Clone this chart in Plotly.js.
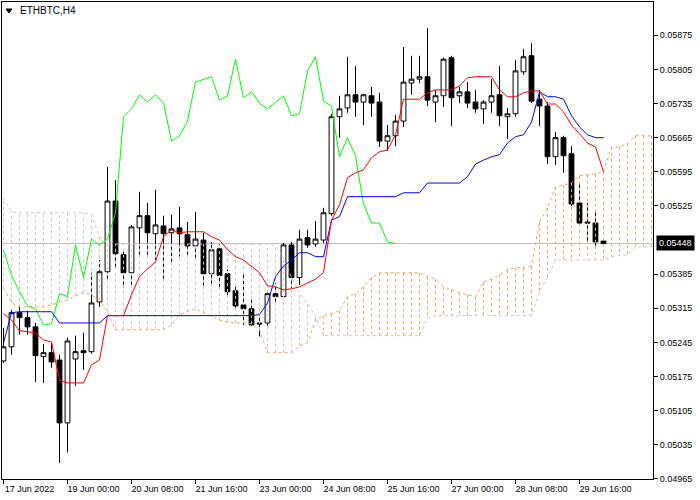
<!DOCTYPE html>
<html><head><meta charset="utf-8">
<script src="https://cdn.plot.ly/plotly-3.0.1.min.js"></script>
<style>html,body{margin:0;padding:0;background:#fff;}#chart{width:700px;height:500px;}</style>
</head><body><div id="chart"></div>
<script>
const symbolLabel = "ETHBTC,H4";
const tickBars = [0,8,16,24,32,40,48,56,64,72];
const tickLabels = ["17 Jun 2022","19 Jun 00:00","20 Jun 08:00","21 Jun 16:00","23 Jun 00:00","24 Jun 08:00","25 Jun 16:00","27 Jun 00:00","28 Jun 08:00","29 Jun 16:00"];
const priceTicks = [0.04965,0.05035,0.05105,0.05175,0.05245,0.05315,0.05385,0.05525,0.05595,0.05665,0.05735,0.05805,0.05875];

const open = [0.05207,0.05236,0.05306,0.05296,0.05277,0.05216,0.05224,0.05209,0.05080,0.05211,
 0.05228,0.05226,0.05328,0.05390,0.05535,0.05425,0.05388,0.05480,0.05505,0.05468,
 0.05484,0.05470,0.05480,0.05466,0.05443,0.05455,0.05386,0.05437,0.05386,0.05351,
 0.05322,0.05314,0.05285,0.05285,0.05345,0.05339,0.05445,0.05378,0.05460,0.05447,
 0.05455,0.05509,0.05708,0.05726,0.05753,0.05738,0.05751,0.05738,0.05658,0.05669,
 0.05699,0.05777,0.05785,0.05790,0.05738,0.05751,0.05829,0.05751,0.05759,0.05738,
 0.05724,0.05738,0.05753,0.05708,0.05714,0.05800,0.05833,0.05744,0.05730,0.05626,
 0.05665,0.05632,0.05531,0.05492,0.05490,0.05453];
const high = [0.05275,0.05312,0.05320,0.05310,0.05285,0.05242,0.05244,0.05220,0.05255,0.05259,
 0.05265,0.05388,0.05414,0.05605,0.05578,0.05433,0.05486,0.05554,0.05531,0.05558,
 0.05505,0.05507,0.05523,0.05492,0.05513,0.05470,0.05451,0.05447,0.05394,0.05359,
 0.05388,0.05332,0.05296,0.05349,0.05367,0.05449,0.05451,0.05476,0.05476,0.05494,
 0.05521,0.05714,0.05751,0.05831,0.05812,0.05755,0.05769,0.05757,0.05691,0.05712,
 0.05851,0.05833,0.05833,0.05890,0.05763,0.05829,0.05833,0.05769,0.05779,0.05763,
 0.05742,0.05785,0.05812,0.05726,0.05824,0.05847,0.05859,0.05763,0.05738,0.05677,
 0.05669,0.05648,0.05572,0.05531,0.05513,0.05455];
const low = [0.05203,0.05220,0.05261,0.05261,0.05164,0.05162,0.05193,0.04998,0.05019,0.05156,
 0.05189,0.05222,0.05318,0.05373,0.05398,0.05357,0.05359,0.05421,0.05419,0.05414,
 0.05375,0.05404,0.05421,0.05421,0.05414,0.05361,0.05363,0.05357,0.05337,0.05316,
 0.05281,0.05279,0.05257,0.05275,0.05328,0.05337,0.05357,0.05363,0.05439,0.05441,
 0.05449,0.05505,0.05665,0.05716,0.05708,0.05691,0.05708,0.05646,0.05638,0.05648,
 0.05687,0.05753,0.05777,0.05730,0.05697,0.05728,0.05689,0.05736,0.05726,0.05716,
 0.05693,0.05716,0.05689,0.05662,0.05708,0.05794,0.05736,0.05689,0.05611,0.05609,
 0.05593,0.05525,0.05486,0.05451,0.05443,0.05445];
const close = [0.05236,0.05306,0.05296,0.05277,0.05218,0.05224,0.05205,0.05080,0.05248,0.05226,
 0.05224,0.05326,0.05390,0.05535,0.05427,0.05388,0.05482,0.05505,0.05470,0.05486,
 0.05468,0.05478,0.05468,0.05443,0.05457,0.05386,0.05435,0.05382,0.05349,0.05320,
 0.05314,0.05281,0.05283,0.05345,0.05339,0.05445,0.05378,0.05457,0.05445,0.05457,
 0.05511,0.05708,0.05724,0.05753,0.05738,0.05753,0.05736,0.05658,0.05669,0.05699,
 0.05779,0.05785,0.05790,0.05742,0.05751,0.05826,0.05747,0.05759,0.05736,0.05724,
 0.05738,0.05751,0.05710,0.05714,0.05802,0.05831,0.05740,0.05730,0.05626,0.05665,
 0.05628,0.05529,0.05490,0.05490,0.05451,0.05448];

const tenkan = [0.05304,0.05291,0.05269,0.05267,0.05265,0.05250,0.05246,0.05168,0.05162,0.05162,
 0.05162,0.05199,0.05209,0.05300,0.05300,0.05300,0.05343,0.05380,0.05396,0.05410,
 0.05462,0.05476,0.05470,0.05472,0.05472,0.05472,0.05462,0.05455,0.05435,0.05421,
 0.05414,0.05400,0.05388,0.05361,0.05359,0.05353,0.05355,0.05359,0.05367,0.05375,
 0.05388,0.05496,0.05527,0.05583,0.05593,0.05599,0.05624,0.05636,0.05640,0.05671,
 0.05744,0.05744,0.05744,0.05757,0.05763,0.05763,0.05763,0.05771,0.05788,0.05790,
 0.05790,0.05790,0.05763,0.05749,0.05749,0.05757,0.05761,0.05761,0.05734,0.05734,
 0.05718,0.05691,0.05673,0.05654,0.05646,0.05595];
const kijun = [0.05244,0.05306,0.05308,0.05308,0.05308,0.05308,0.05308,0.05285,0.05285,0.05285,
 0.05285,0.05285,0.05285,0.05300,0.05300,0.05300,0.05300,0.05300,0.05300,0.05300,
 0.05300,0.05300,0.05300,0.05300,0.05300,0.05300,0.05300,0.05300,0.05300,0.05300,
 0.05300,0.05300,0.05302,0.05326,0.05380,0.05402,0.05414,0.05429,0.05429,0.05421,
 0.05421,0.05496,0.05503,0.05544,0.05544,0.05544,0.05544,0.05544,0.05544,0.05544,
 0.05552,0.05552,0.05552,0.05572,0.05572,0.05572,0.05572,0.05572,0.05585,0.05611,
 0.05619,0.05626,0.05630,0.05654,0.05667,0.05671,0.05697,0.05759,0.05749,0.05749,
 0.05744,0.05710,0.05687,0.05671,0.05665,0.05665];
const chikou = [0.05435,0.05382,0.05349,0.05320,0.05314,0.05281,0.05283,0.05345,0.05339,0.05445,
 0.05378,0.05457,0.05445,0.05457,0.05511,0.05708,0.05724,0.05753,0.05738,0.05753,
 0.05736,0.05658,0.05669,0.05699,0.05779,0.05785,0.05790,0.05742,0.05751,0.05826,
 0.05747,0.05759,0.05736,0.05724,0.05738,0.05751,0.05710,0.05714,0.05802,0.05831,
 0.05740,0.05730,0.05626,0.05665,0.05628,0.05529,0.05490,0.05490,0.05451,0.05448];
const senkouA = [0.05357,0.05326,0.05318,0.05318,0.05318,0.05318,0.05322,0.05328,0.05332,0.05341,
 0.05347,0.05343,0.05332,0.05308,0.05271,0.05271,0.05271,0.05271,0.05271,0.05271,
 0.05271,0.05281,0.05302,0.05308,0.05314,0.05306,0.05298,0.05291,0.05287,0.05285,
 0.05285,0.05283,0.05271,0.05224,0.05224,0.05224,0.05224,0.05238,0.05244,0.05291,
 0.05300,0.05304,0.05310,0.05339,0.05345,0.05359,0.05378,0.05388,0.05388,0.05388,
 0.05388,0.05388,0.05388,0.05380,0.05375,0.05359,0.05353,0.05347,0.05343,0.05339,
 0.05369,0.05375,0.05384,0.05394,0.05398,0.05398,0.05402,0.05492,0.05521,0.05564,
 0.05568,0.05572,0.05587,0.05589,0.05591,0.05595,0.05646,0.05646,0.05654,0.05669,
 0.05669,0.05669];
const senkouB = [0.05542,0.05513,0.05511,0.05511,0.05511,0.05511,0.05511,0.05511,0.05511,0.05511,
 0.05511,0.05507,0.05462,0.05449,0.05447,0.05447,0.05447,0.05447,0.05447,0.05447,
 0.05447,0.05447,0.05447,0.05447,0.05447,0.05447,0.05447,0.05447,0.05447,0.05447,
 0.05447,0.05447,0.05447,0.05447,0.05443,0.05419,0.05378,0.05347,0.05326,0.05298,
 0.05259,0.05259,0.05259,0.05259,0.05259,0.05259,0.05259,0.05259,0.05259,0.05259,
 0.05259,0.05259,0.05259,0.05296,0.05300,0.05300,0.05300,0.05300,0.05300,0.05300,
 0.05300,0.05300,0.05300,0.05300,0.05300,0.05300,0.05300,0.05349,0.05378,0.05414,
 0.05414,0.05414,0.05414,0.05414,0.05414,0.05414,0.05421,0.05423,0.05425,0.05441,
 0.05441,0.05441];

const FONT = 'Liberation Sans, Arial, sans-serif';
const bars = close.map((_, i) => i);
const cloudBars = senkouA.map((_, i) => i);
const chikouBars = chikou.map((_, i) => i);
const lastClose = close[close.length - 1];

const hatch = {up: {x: [], y: []}, dn: {x: [], y: []}};
for (let i = 0; i < senkouA.length; i++) {
  const k = senkouA[i] >= senkouB[i] ? 'up' : 'dn';
  hatch[k].x.push(i, i, null);
  hatch[k].y.push(senkouA[i], senkouB[i], null);
}

const traces = [
  {type: 'candlestick', x: bars, open: open, high: high, low: low, close: close,
   increasing: {line: {color: '#000', width: 1}, fillcolor: '#fff'},
   decreasing: {line: {color: '#000', width: 1}, fillcolor: '#000'},
   whiskerwidth: 0, hoverinfo: 'skip'},
  {type: 'scatter', mode: 'lines', x: hatch.dn.x, y: hatch.dn.y, connectgaps: false,
   line: {color: '#D8BFD8', width: 1, dash: '3px,3px'}, hoverinfo: 'skip'},
  {type: 'scatter', mode: 'lines', x: hatch.up.x, y: hatch.up.y, connectgaps: false,
   line: {color: '#F4A460', width: 1, dash: '3px,3px'}, hoverinfo: 'skip'},
  {type: 'scatter', mode: 'lines', x: cloudBars, y: senkouB,
   line: {color: '#D8BFD8', width: 1, dash: '3px,3px'}, hoverinfo: 'skip'},
  {type: 'scatter', mode: 'lines', x: cloudBars, y: senkouA,
   line: {color: '#F4A460', width: 1, dash: '3px,3px'}, hoverinfo: 'skip'},
  {type: 'scatter', mode: 'lines', x: chikouBars, y: chikou,
   line: {color: '#00FF00', width: 1}, hoverinfo: 'skip'},
  {type: 'scatter', mode: 'lines', x: bars, y: kijun,
   line: {color: '#0000FF', width: 1}, hoverinfo: 'skip'},
  {type: 'scatter', mode: 'lines', x: bars, y: tenkan,
   line: {color: '#FF0000', width: 1}, hoverinfo: 'skip'}
];

const layout = {
  width: 700, height: 500,
  margin: {l: 2, r: 47, t: 2, b: 21, pad: 0},
  paper_bgcolor: '#fff', plot_bgcolor: '#fff',
  showlegend: false,
  boxgap: 0.4, boxgroupgap: 0,
  font: {family: FONT, size: 9, color: '#000'},
  xaxis: {
    range: [-0.1875, 81.1875], tickmode: 'array', tickvals: tickBars, ticktext: tickLabels,
    ticks: 'outside', ticklen: 4, tickcolor: '#000', tickwidth: 1,
    showline: true, linecolor: '#000', linewidth: 1, mirror: true,
    showgrid: false, zeroline: false, rangeslider: {visible: false},
    tickfont: {family: FONT, size: 9, color: '#000'},
    ticklabelshift: 26, ticklabelstandoff: -3, fixedrange: true
  },
  yaxis: {
    side: 'right', range: [0.049649, 0.059433], tickmode: 'array', tickvals: priceTicks,
    ticktext: priceTicks.map(v => v.toFixed(5)),
    ticks: 'outside', ticklen: 4, tickcolor: '#000', tickwidth: 1,
    showline: true, linecolor: '#000', linewidth: 1, mirror: true,
    showgrid: false, zeroline: false,
    tickfont: {family: FONT, size: 9, color: '#000'}, fixedrange: true
  },
  shapes: [
    {type: 'line', xref: 'paper', x0: 0, x1: 1, yref: 'y', y0: lastClose, y1: lastClose,
     line: {color: '#C0C0C0', width: 1}, layer: 'below'},
    {type: 'path', xref: 'paper', yref: 'paper',
     path: 'M 0.00614 0.98532 L 0.01536 0.98532 L 0.01075 0.97694 Z',
     fillcolor: '#000', line: {color: '#000', width: 1}}
  ],
  annotations: [
    {xref: 'paper', yref: 'paper', x: 0.0246, y: 0.9818, xanchor: 'left', yanchor: 'middle',
     text: symbolLabel, showarrow: false, font: {family: FONT, size: 10, color: '#000'}},
    {xref: 'paper', yref: 'y', x: 1, y: lastClose, xanchor: 'left', yanchor: 'middle', xshift: 3,
     text: lastClose.toFixed(5), showarrow: false, bgcolor: '#000', borderpad: 2,
     font: {family: FONT, size: 9, color: '#fff'}}
  ]
};

Plotly.newPlot('chart', traces, layout, {displayModeBar: false, staticPlot: true});
</script>
</body></html>
